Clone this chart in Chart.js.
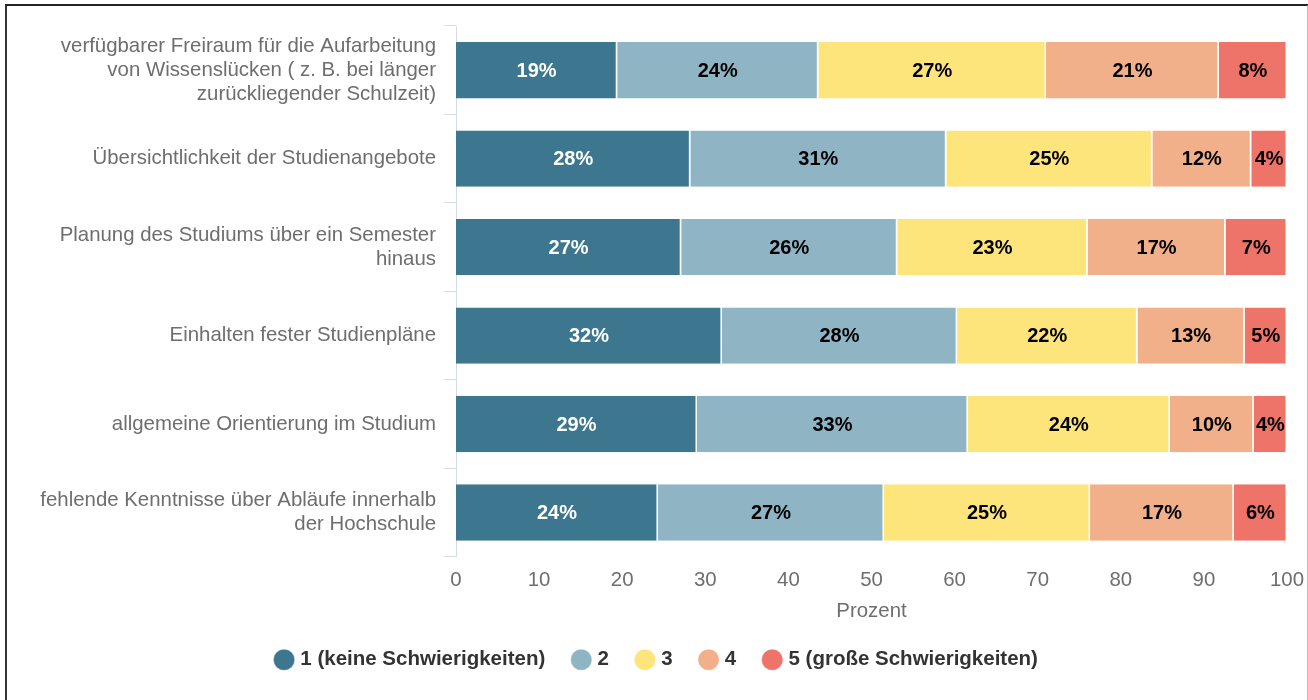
<!DOCTYPE html>
<html>
<head>
<meta charset="utf-8">
<script src="https://cdn.jsdelivr.net/npm/chart.js@4"></script>
<style>
  html, body { margin: 0; padding: 0; background: #fff; }
  #wrap { position: relative; width: 1308px; height: 700px; }
  #frame {
    position: absolute; left: 5px; top: 4px; width: 1300px; height: 700px;
    border-top: 2px solid #222; border-left: 2px solid #333; border-right: 2px solid #bbb;
    pointer-events: none;
  }
</style>
</head>
<body>
<div id="wrap">
  <canvas id="myChart" width="1308" height="700"></canvas>
  <div id="frame"></div>
</div>
<script>
const categories = [
    ['verfügbarer Freiraum für die Aufarbeitung', 'von Wissenslücken ( z. B. bei länger', 'zurückliegender Schulzeit)'],
    'Übersichtlichkeit der Studienangebote',
    ['Planung des Studiums über ein Semester', 'hinaus'],
    'Einhalten fester Studienpläne',
    'allgemeine Orientierung im Studium',
    ['fehlende Kenntnisse über Abläufe innerhalb', 'der Hochschule']
];

const seriesNames = ['1 (keine Schwierigkeiten)', '2', '3', '4', '5 (große Schwierigkeiten)'];
const seriesColors = ['#3d768f', '#8fb4c4', '#fee57b', '#f2b08a', '#ee7368'];

// Prozent je Stufe
const level1 = [19.4, 28.2, 27.1, 32.0, 29.0, 24.3];
const level2 = [24.2, 30.8, 26.0, 28.3, 32.6, 27.2];
const level3 = [27.4, 24.8, 22.9, 21.7, 24.3, 24.8];
const level4 = [20.8, 11.9, 16.6, 12.9, 10.1, 17.3];
const level5 = [8.2, 4.3, 7.4, 5.1, 4.0, 6.4];

const xTicks = [0, 10, 20, 30, 40, 50, 60, 70, 80, 90, 100];

const font = '"Liberation Sans", Arial, sans-serif';
const ctx = document.getElementById('myChart');

const valueLabels = {
    id: 'valueLabels',
    afterDatasetsDraw(chart) {
        const c = chart.ctx;
        c.save();
        c.font = 'bold 20px ' + font;
        c.textAlign = 'center';
        c.textBaseline = 'middle';
        chart.data.datasets.forEach((ds, i) => {
            const meta = chart.getDatasetMeta(i);
            meta.data.forEach((bar, j) => {
                const p = bar.getProps(['x', 'y', 'base'], true);
                c.fillStyle = i === 0 ? '#fff' : '#000';
                c.fillText(Math.round(ds.data[j]) + '%', (p.x + p.base) / 2, p.y + 1);
            });
        });
        c.restore();
    }
};

const allLevels = [level1, level2, level3, level4, level5];

let chart = new Chart(ctx, {
    type: 'bar',
    data: {
        labels: categories,
        datasets: allLevels.map((vals, i) => ({
            label: seriesNames[i],
            data: vals,
            backgroundColor: seriesColors[i],
            borderColor: '#fff',
            borderWidth: { left: 0, right: 1.5, top: 0, bottom: 0 },
            borderSkipped: false,
            categoryPercentage: 0.7,
            barPercentage: 0.91
        }))
    },
    options: {
        indexAxis: 'y',
        responsive: false,
        animation: false,
        layout: { padding: { left: 29, right: 21, top: 26, bottom: 20 } },
        plugins: {
            legend: {
                position: 'bottom',
                labels: {
                    usePointStyle: true,
                    pointStyle: 'circle',
                    boxWidth: 12,
                    boxHeight: 15,
                    padding: 30,
                    color: '#333',
                    font: { family: font, size: 20.5, weight: 'bold' }
                }
            },
            tooltip: { enabled: false }
        },
        scales: {
            x: {
                stacked: true,
                min: 0,
                max: 100,
                afterBuildTicks: axis => { axis.ticks = xTicks.map(v => ({ value: v })); },
                afterFit: axis => { axis.paddingLeft = 0; axis.paddingRight = 0; },
                grid: { display: false, drawTicks: false },
                border: { display: false },
                ticks: { padding: 11, color: '#6e6e6e', font: { family: font, size: 20.4 } },
                title: {
                    display: true,
                    text: 'Prozent',
                    color: '#6e6e6e',
                    padding: { top: 0, bottom: 0 },
                    font: { family: font, size: 20.4, lineHeight: 0.8 }
                }
            },
            y: {
                stacked: true,
                afterFit: axis => { axis.width = 427; axis.paddingTop = 0; axis.paddingBottom = 0; },
                grid: { drawOnChartArea: false, tickLength: 12, color: '#d5dbeb', offset: true },
                border: { display: true, color: '#d5dbeb' },
                ticks: { padding: 8, color: '#6e6e6e', font: { family: font, size: 20.4, lineHeight: 1.18 } }
            }
        }
    },
    plugins: [valueLabels]
});
</script>
</body>
</html>
